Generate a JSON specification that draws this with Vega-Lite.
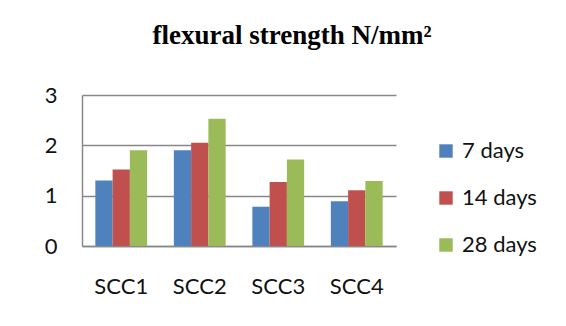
{
  "$schema": "https://vega.github.io/schema/vega-lite/v6.json",
  "width": 314,
  "height": 151,
  "padding": {"left": 44, "top": 22, "right": 5, "bottom": 5},
  "background": "white",
  "title": {
    "text": "flexural strength N/mm²",
    "font": "Liberation Serif",
    "fontSize": 27,
    "fontWeight": "bold",
    "color": "#000000",
    "anchor": "middle",
    "dx": 53,
    "offset": 34
  },
  "data": {
    "values": [
      {"mix": "SCC1", "age": "7 days", "strength": 1.3},
      {"mix": "SCC1", "age": "14 days", "strength": 1.52},
      {"mix": "SCC1", "age": "28 days", "strength": 1.9},
      {"mix": "SCC2", "age": "7 days", "strength": 1.9},
      {"mix": "SCC2", "age": "14 days", "strength": 2.05},
      {"mix": "SCC2", "age": "28 days", "strength": 2.53},
      {"mix": "SCC3", "age": "7 days", "strength": 0.78},
      {"mix": "SCC3", "age": "14 days", "strength": 1.27},
      {"mix": "SCC3", "age": "28 days", "strength": 1.72},
      {"mix": "SCC4", "age": "7 days", "strength": 0.89},
      {"mix": "SCC4", "age": "14 days", "strength": 1.11},
      {"mix": "SCC4", "age": "28 days", "strength": 1.29}
    ]
  },
  "mark": {"type": "bar"},
  "encoding": {
    "x": {
      "field": "mix",
      "type": "nominal",
      "scale": {"paddingInner": 0.34, "paddingOuter": 0.17},
      "axis": {
        "title": null,
        "labelAngle": 0,
        "ticks": false,
        "labelPadding": 30,
        "labelFont": "Lato",
        "labelFontSize": 22,
        "labelColor": "#111111",
        "domainColor": "#888888",
        "domainWidth": 1.5
      }
    },
    "xOffset": {"field": "age", "type": "nominal", "sort": ["7 days", "14 days", "28 days"]},
    "y": {
      "field": "strength",
      "type": "quantitative",
      "scale": {"domain": [0, 3], "nice": false},
      "axis": {
        "title": null,
        "values": [0, 1, 2, 3],
        "ticks": false,
        "labelPadding": 25,
        "labelFont": "Lato",
        "labelFontSize": 22,
        "labelColor": "#111111",
        "domainColor": "#888888",
        "domainWidth": 1.5,
        "gridColor": "#888888",
        "gridWidth": 1.5
      }
    },
    "color": {
      "field": "age",
      "type": "nominal",
      "sort": ["7 days", "14 days", "28 days"],
      "scale": {"domain": ["7 days", "14 days", "28 days"], "range": ["#4F81BD", "#C0504D", "#9BBB59"]},
      "legend": {
        "title": null,
        "orient": "none",
        "legendX": 353,
        "legendY": 45,
        "symbolType": "square",
        "symbolSize": 180,
        "symbolStrokeWidth": 0,
        "symbolOpacity": 1,
        "labelFont": "Lato",
        "labelFontSize": 22,
        "labelColor": "#111111",
        "labelOffset": 5,
        "rowPadding": 25,
        "padding": 0
      }
    }
  },
  "config": {
    "view": {"stroke": null}
  }
}
